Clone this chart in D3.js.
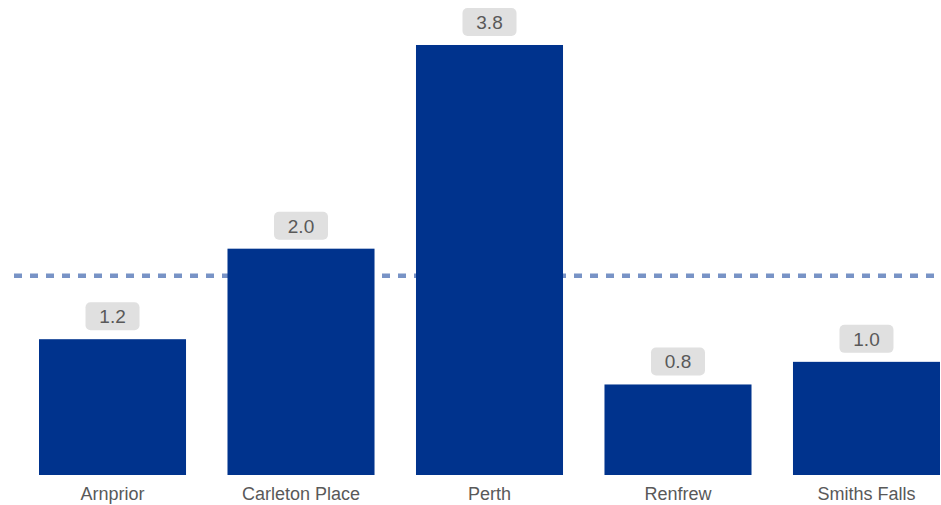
<!DOCTYPE html>
<html>
<head>
<meta charset="utf-8">
<script src="https://cdn.jsdelivr.net/npm/d3@7"></script>
<style>
  html, body { margin: 0; padding: 0; background: #fff; }
  svg { display: block; font-family: "Liberation Sans", Arial, sans-serif; }
</style>
</head>
<body>
<svg id="chart" width="941" height="505"></svg>
<script>
// Towns and their values
const categories = ["Arnprior", "Carleton Place", "Perth", "Renfrew", "Smiths Falls"];
const values = [1.2, 2.0, 3.8, 0.8, 1.0];
// Reference line: average across towns
const averageValue = d3.mean(values);

const width = 941, height = 505;
const svg = d3.select("#chart");

const x = d3.scaleBand()
  .domain(categories)
  .range([39, 940])
  .paddingInner(0.22)
  .paddingOuter(0);

const y = d3.scaleLinear()
  .domain([0, 4])
  .range([475, 475 - 4 * 113.16]);

// Average line (dashed), drawn beneath the bars
svg.append("line")
  .attr("x1", 14)
  .attr("x2", width)
  .attr("y1", y(averageValue))
  .attr("y2", y(averageValue))
  .attr("stroke", "#7893c6")
  .attr("stroke-width", 4.5)
  .attr("stroke-dasharray", "8,8");

// Bars
svg.append("g")
  .selectAll("rect")
  .data(values)
  .join("rect")
  .attr("x", (d, i) => x(categories[i]))
  .attr("y", d => y(d))
  .attr("width", x.bandwidth())
  .attr("height", d => y(0) - y(d))
  .attr("fill", "#00338d");

// Value labels in rounded boxes
const labels = svg.append("g")
  .selectAll("g")
  .data(values)
  .join("g")
  .attr("transform", (d, i) => `translate(${x(categories[i]) + x.bandwidth() / 2},${y(d) - 9})`);

labels.append("rect")
  .attr("x", -27)
  .attr("y", -28)
  .attr("width", 54)
  .attr("height", 28)
  .attr("rx", 5)
  .attr("fill", "#e0e0e0");

labels.append("text")
  .attr("x", 0)
  .attr("y", -7)
  .attr("text-anchor", "middle")
  .attr("font-size", 19)
  .attr("fill", "#595959")
  .text(d => d.toFixed(1));

// Category axis
const xAxis = svg.append("g")
  .attr("transform", `translate(0,${y(0)})`)
  .call(d3.axisBottom(x).tickSize(0).tickPadding(10));
xAxis.select(".domain").remove();
xAxis.selectAll("text")
  .attr("dy", null)
  .attr("y", 25)
  .attr("font-size", 18)
  .attr("font-family", "Liberation Sans, Arial, sans-serif")
  .attr("fill", "#595959");
</script>
</body>
</html>
